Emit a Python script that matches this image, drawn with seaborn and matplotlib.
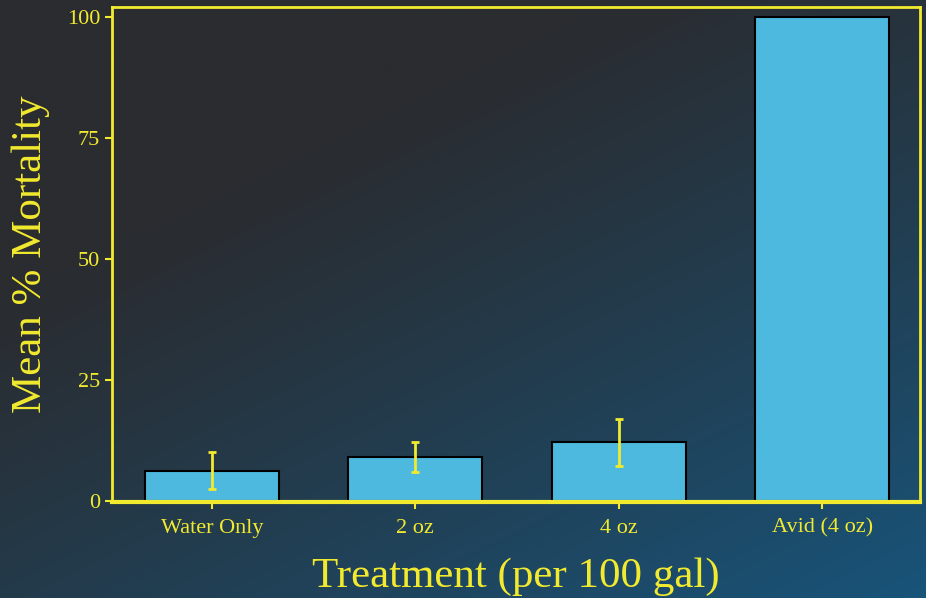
import numpy as np
import pandas as pd
import matplotlib
matplotlib.use("Agg")
import matplotlib.pyplot as plt
import seaborn as sns

# Data
categories = ["Water Only", "2 oz", "4 oz", "Avid (4 oz)"]
mean_mortality = [6.2, 9.0, 12.0, 100.0]
error_size = [3.9, 3.0, 4.8, 0.0]
y_ticks = [0, 25, 50, 75, 100]

YELLOW = "#f2ea2e"
BAR = "#4db9de"

sns.set_theme(style="white")
plt.rcParams["font.family"] = ["Liberation Serif", "DejaVu Serif"]

fig = plt.figure(figsize=(9.26, 5.98), dpi=100)

# background gradient (dark gray top-left to blue bottom-right)
h, w = 120, 186
yy, xx = np.mgrid[0:h, 0:w]
t = np.clip(0.6 * (xx / w) + 0.8 * (yy / h) - 0.4, 0, 1) ** 1.1
c0 = np.array([42, 44, 48]) / 255.0
c1 = np.array([24, 84, 122]) / 255.0
img = c0[None, None, :] * (1 - t[..., None]) + c1[None, None, :] * t[..., None]
bg = fig.add_axes([0, 0, 1, 1], zorder=-1)
bg.imshow(img, aspect="auto", extent=[0, 1, 0, 1], interpolation="bilinear")
bg.axis("off")

ax = fig.add_axes([0.121, 0.1605, 0.8725, 0.828])
ax.set_facecolor("none")

df = pd.DataFrame({"Treatment": categories, "Mortality": mean_mortality})
sns.barplot(data=df, x="Treatment", y="Mortality", order=categories,
            color=BAR, saturation=1, width=0.66, edgecolor="black",
            linewidth=1.5, errorbar=None, ax=ax)

xs = np.arange(len(categories))
for xi, m, e in zip(xs, mean_mortality, error_size):
    if e > 0:
        ax.errorbar(xi, m, yerr=e, fmt="none", ecolor=YELLOW,
                    elinewidth=2, capsize=3, capthick=2, zorder=5)

ax.set_xlim(-0.49, 3.48)
ax.set_ylim(-0.3, 102)
ax.set_yticks(y_ticks)
ax.set_yticklabels([str(v) for v in y_ticks])

for side in ["left", "top", "right"]:
    ax.spines[side].set_color(YELLOW)
    ax.spines[side].set_linewidth(2)
ax.spines["bottom"].set_color(YELLOW)
ax.spines["bottom"].set_linewidth(3)

ax.tick_params(axis="both", colors=YELLOW, labelcolor=YELLOW, labelsize=16,
               length=5, width=1.5, direction="out", left=True, bottom=True)
ax.tick_params(axis="x", pad=7)

ax.set_xlabel("Treatment (per 100 gal)", color=YELLOW, fontsize=31, labelpad=14)
ax.set_ylabel("Mean % Mortality", color=YELLOW, fontsize=31, labelpad=12)

fig.savefig("out.png", dpi=100)
